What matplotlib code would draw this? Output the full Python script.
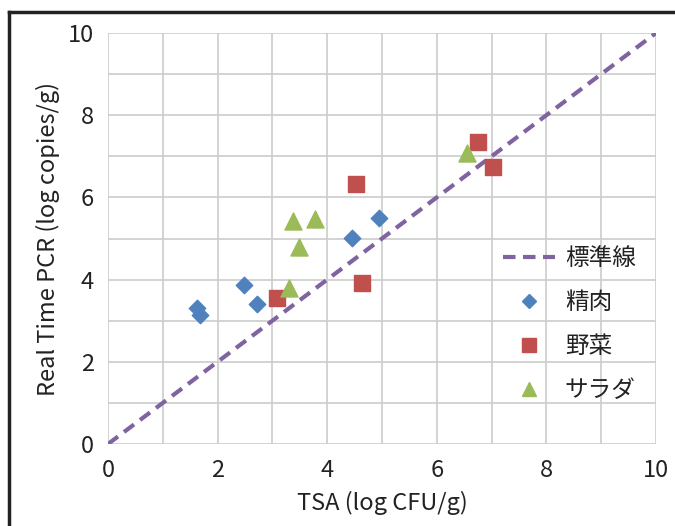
import matplotlib
matplotlib.use("Agg")
import matplotlib.pyplot as plt
from matplotlib.lines import Line2D

plt.rcParams['font.family'] = ['Noto Sans CJK JP', 'DejaVu Sans']

# data
std_x = [0, 10]
std_y = [0, 10]
meat_x = [1.62, 1.68, 2.49, 2.72, 4.46, 4.95]
meat_y = [3.30, 3.15, 3.86, 3.40, 5.01, 5.50]
veg_x = [3.09, 4.52, 4.64, 6.76, 7.02]
veg_y = [3.55, 6.33, 3.91, 7.34, 6.75]
salad_x = [3.31, 3.38, 3.49, 3.78, 6.56]
salad_y = [3.79, 5.43, 4.79, 5.48, 7.09]
labels = ['標準線', '精肉', '野菜', 'サラダ']
xticks = [0, 2, 4, 6, 8, 10]
yticks = [0, 2, 4, 6, 8, 10]

fig = plt.figure(figsize=(6.75, 5.26), dpi=100)
ax = fig.add_axes([108/675, 1-444/526, (656-108)/675, (444-33)/526])

# border
fig.add_artist(Line2D([9/675, 9/675], [0, 1-12/526], color='#222222', lw=2.5, transform=fig.transFigure))
fig.add_artist(Line2D([9/675, 1], [1-12/526, 1-12/526], color='#222222', lw=2.5, transform=fig.transFigure))

ax.set_xlim(0, 10)
ax.set_ylim(0, 10)
ax.set_xticks(xticks)
ax.set_yticks(yticks)
ax.set_xticks(range(0, 11), minor=True)
ax.set_yticks(range(0, 11), minor=True)
ax.grid(True, which='both', color='#CCCCCC', lw=1.2)
ax.set_axisbelow(True)
for s in ax.spines.values():
    s.set_visible(False)
ax.tick_params(which='both', length=0, labelsize=17, colors='#222222', pad=10)
ax.tick_params(axis='x', pad=11)

dash = (0, (3.0, 1.8))
ax.plot(std_x, std_y, ls=dash, color='#8064A2', lw=3.0, label=labels[0], zorder=3)
ax.scatter(meat_x, meat_y, marker='D', s=70, color='#4F81BD', label=labels[1], zorder=4)
ax.scatter(veg_x, veg_y, marker='s', s=140, color='#C0504D', label=labels[2], zorder=4)
ax.scatter(salad_x, salad_y, marker='^', s=150, color='#9BBB59', label=labels[3], zorder=4)

ax.set_xlabel('TSA (log CFU/g)', fontsize=17, color='#222222', labelpad=6)
ax.set_ylabel('Real Time PCR (log copies/g)', fontsize=17, color='#222222', labelpad=6)

handles = [
    Line2D([], [], ls=dash, color='#8064A2', lw=3.0),
    Line2D([], [], ls='none', marker='D', ms=7, color='#4F81BD'),
    Line2D([], [], ls='none', marker='s', ms=10, color='#C0504D'),
    Line2D([], [], ls='none', marker='^', ms=10, color='#9BBB59'),
]
ax.legend(handles, labels, loc='center left', bbox_to_anchor=(0.682, 0.29),
          frameon=False, fontsize=17, labelspacing=0.89, handlelength=2.2,
          handletextpad=0.42, labelcolor='#222222')

fig.savefig('out.png', dpi=100)
